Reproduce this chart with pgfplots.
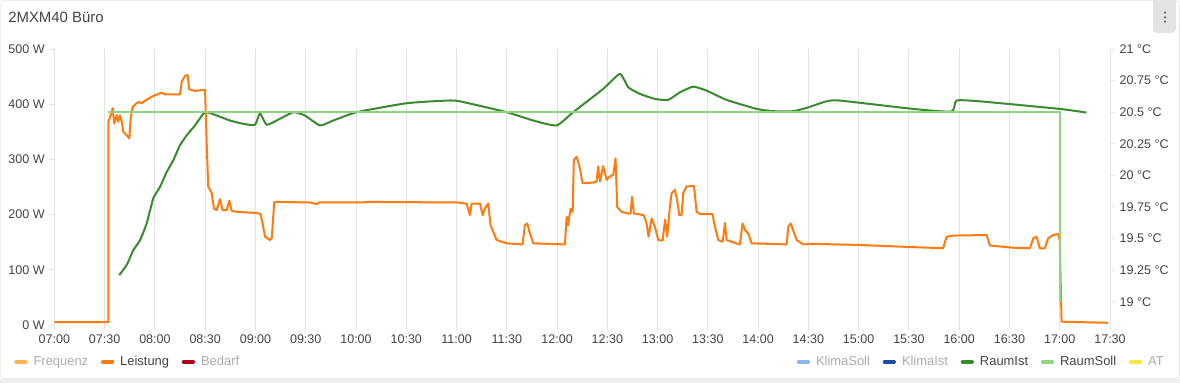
\documentclass[border=0pt]{standalone}
\usepackage{pgfplots}
\pgfplotsset{compat=1.18}
\usepackage{fontspec}
\setmainfont{Liberation Sans}
\definecolor{leistung}{HTML}{FF7B0F}
\definecolor{frequenz}{HTML}{FFB44F}
\definecolor{bedarf}{HTML}{B00020}
\definecolor{klimasoll}{HTML}{8AB6F5}
\definecolor{klimaist}{HTML}{1A4BA6}
\definecolor{raumist}{HTML}{3A8A2E}
\definecolor{raumsoll}{HTML}{8FD483}
\definecolor{atc}{HTML}{FFE83D}
\definecolor{gridc}{HTML}{E3E3E3}
\definecolor{txt}{HTML}{444444}
\definecolor{txtoff}{HTML}{ABABAB}

\pgfplotstableread{
t w
0 5
32.2 5
32.2 368
33.6 380
34.8 393
35.7 365
37.2 380
38.1 368
39.1 380
40.2 368
41.1 350
43.1 344
44.7 338
45.5 374
46.7 395
49.1 402
50.7 404
52.1 402
55.1 408
59.0 415
64.0 421
66.0 418
74.9 418
76.0 441
77.9 451
79.5 453
80.5 427
83.9 424
88.8 426
89.9 426
90.9 329
91.8 251
93.9 239
95.2 211
96.8 208
98.8 228
100.4 208
102.8 208
104.4 225
105.8 207
108.8 205
120.7 203
123.1 201
124.3 183
125.7 160
128.7 154
129.7 157
131.2 222
132.6 223
152.5 222
156.5 219
158 222
184.3 222
186.4 223
240.1 222
246.0 220
248.0 199
249.0 220
254.0 220
255.6 199
256.9 211
258.9 220
260.3 181
261.9 169
263.9 154
269.9 148
279.4 146
280.8 181
282.2 184
283.8 166
285.8 148
304.7 146
305.7 196
306.6 181
308.1 211
309.3 205
310.0 299
311.7 305
313.6 284
315.2 257
321.6 258
323.6 260
324.5 287
325.6 260
327.5 288
329.6 263
331.5 269
333.5 272
334.9 302
335.9 214
338.5 205
342.5 202
343.9 202
344.7 232
345.9 202
351.8 199
353.4 184
354.6 160
356.4 193
358.4 178
360.4 154
363.0 153
364.5 191
365.7 160
367.3 214
368.4 239
370.3 245
371.7 226
372.9 199
374.3 199
375.3 239
377.3 251
381.7 252
383.3 205
385.2 201
392.8 201
394.2 178
396.2 154
398.8 151
400.2 185
401.2 154
409.1 146
410.7 184
412.1 172
414.1 166
416.1 148
437.0 146
438.0 178
439.4 184
441.0 171
443.0 154
446.9 146
452.8 147
480.7 145
504.6 142
530.4 139
532.5 160
536.4 162
556.4 163
558.3 144
572.2 140
582.2 139
584.2 157
586.2 160
588.1 139
591.1 139
593.1 157
596.0 163
599.0 165
600.0 154
601.1 6
628.9 4
}\leistungdata

\pgfplotstableread{
t c
38.7 19.211
43.1 19.290
47.1 19.408
51.1 19.487
55.1 19.621
59.0 19.818
63.0 19.908
67.0 20.026
70.9 20.118
74.9 20.237
78.9 20.316
83.9 20.395
89.9 20.500
96.8 20.474
104.8 20.434
112.7 20.408
119.7 20.400
122.7 20.492
126.7 20.400
134.6 20.448
142.6 20.500
149.5 20.474
158.5 20.395
166.4 20.434
180.4 20.500
210.2 20.571
234.1 20.592
242.0 20.586
269.9 20.500
285.8 20.434
299.7 20.395
309.6 20.500
327.5 20.684
337.5 20.803
342.5 20.697
349.4 20.645
358.4 20.605
366.3 20.597
373.3 20.657
381.2 20.702
389.2 20.671
401.2 20.597
419.1 20.526
429.0 20.508
440.9 20.508
448.9 20.534
460.8 20.586
468.8 20.592
512.5 20.526
535.4 20.505
538.4 20.592
552.3 20.586
600.0 20.526
615.9 20.497
}\raumistdata

\pgfplotstableread{
t c
32.2 20.5
600.0 20.5
600.0 19.0
}\raumsolldata

\pgfplotsset{
  base/.style={
    scale only axis, width=791.7pt, height=207pt,
    at={(40.8pt,43.5pt)}, anchor=south west,
    xmin=0, xmax=630,
    axis line style={draw=none},
    tick style={gridc, line width=0.75pt},
    major tick length=3.75pt, tick align=outside,
    tick label style={font=\fontsize{9.4}{11}\selectfont, text=txt},
    legend style={draw=none, fill=none, legend columns=-1, inner sep=0pt,
      font=\fontsize{9.7}{11}\selectfont, text=txt,
      /tikz/every odd column/.append style={column sep=2.5pt},
      /tikz/every even column/.append style={column sep=7.5pt}},
    legend image code/.code={\draw[##1,line width=3pt,line cap=round] (0pt,0pt) -- (7pt,0pt);},
  }
}

\begin{document}
\begin{tikzpicture}
\fill[white] (0,0) rectangle (885pt,287.25pt);
\fill[gridc!60] (0,0) rectangle (885pt,3pt);
\draw[gridc, fill=white, rounded corners=3pt] (0.4pt,3.2pt) rectangle (884.6pt,286.9pt);
\fill[gridc, rounded corners=3pt] (864.75pt,262.5pt) rectangle (882pt,290pt);
\foreach \yy in {12.7,17.3,21.7} \fill[txt!80] (873.75pt,{(383-\yy)*0.75pt}) circle (0.95pt);
\node[anchor=west, inner sep=0pt, text=txt, font=\fontsize{11.2}{13}\selectfont] at (6pt,274.5pt) {2MXM40 Büro};

\begin{axis}[base,
  ymin=0, ymax=500,
  xtick={0,30,...,630},
  xticklabels={07:00,07:30,08:00,08:30,09:00,09:30,10:00,10:30,11:00,11:30,12:00,12:30,13:00,13:30,14:00,14:30,15:00,15:30,16:00,16:30,17:00,17:30},
  ytick={0,100,200,300,400,500},
  yticklabels={0 W,100 W,200 W,300 W,400 W,500 W},
  xtick pos=bottom, ytick pos=left,
  xmajorgrids, major grid style={gridc, line width=0.75pt},
  legend style={at={(axis description cs:-0.0383,-0.134)}, anchor=west},
]
\addlegendimage{frequenz}
\addlegendentry{\textcolor{txtoff}{Frequenz}}
\addplot[leistung, line width=1.5pt, line join=round, forget plot] table[x=t,y=w] {\leistungdata};
\addlegendimage{leistung}
\addlegendentry{Leistung}
\addlegendimage{bedarf}
\addlegendentry{\textcolor{txtoff}{Bedarf}}
\end{axis}

\begin{axis}[base,
  ymin=18.816, ymax=21,
  axis y line*=right, axis x line=none,
  ytick={19,19.25,19.5,19.75,20,20.25,20.5,20.75,21},
  yticklabels={19 °C,19.25 °C,19.5 °C,19.75 °C,20 °C,20.25 °C,20.5 °C,20.75 °C,21 °C},
  yticklabel style={anchor=west},
  legend style={at={(axis description cs:0.7030,-0.134)}, anchor=west},
]
\addlegendimage{klimasoll}
\addlegendentry{\textcolor{txtoff}{KlimaSoll}}
\addlegendimage{klimaist}
\addlegendentry{\textcolor{txtoff}{KlimaIst}}
\addplot[raumist, line width=1.5pt, line join=round, smooth, tension=0.3] table[x=t,y=c] {\raumistdata};
\addlegendentry{RaumIst}
\addplot[raumsoll, line width=1.5pt] table[x=t,y=c] {\raumsolldata};
\addlegendentry{RaumSoll}
\addlegendimage{atc}
\addlegendentry{\textcolor{txtoff}{AT}}
\end{axis}
\pgfresetboundingbox
\path[use as bounding box] (0,0) rectangle (885pt,287.25pt);
\end{tikzpicture}
\end{document}
